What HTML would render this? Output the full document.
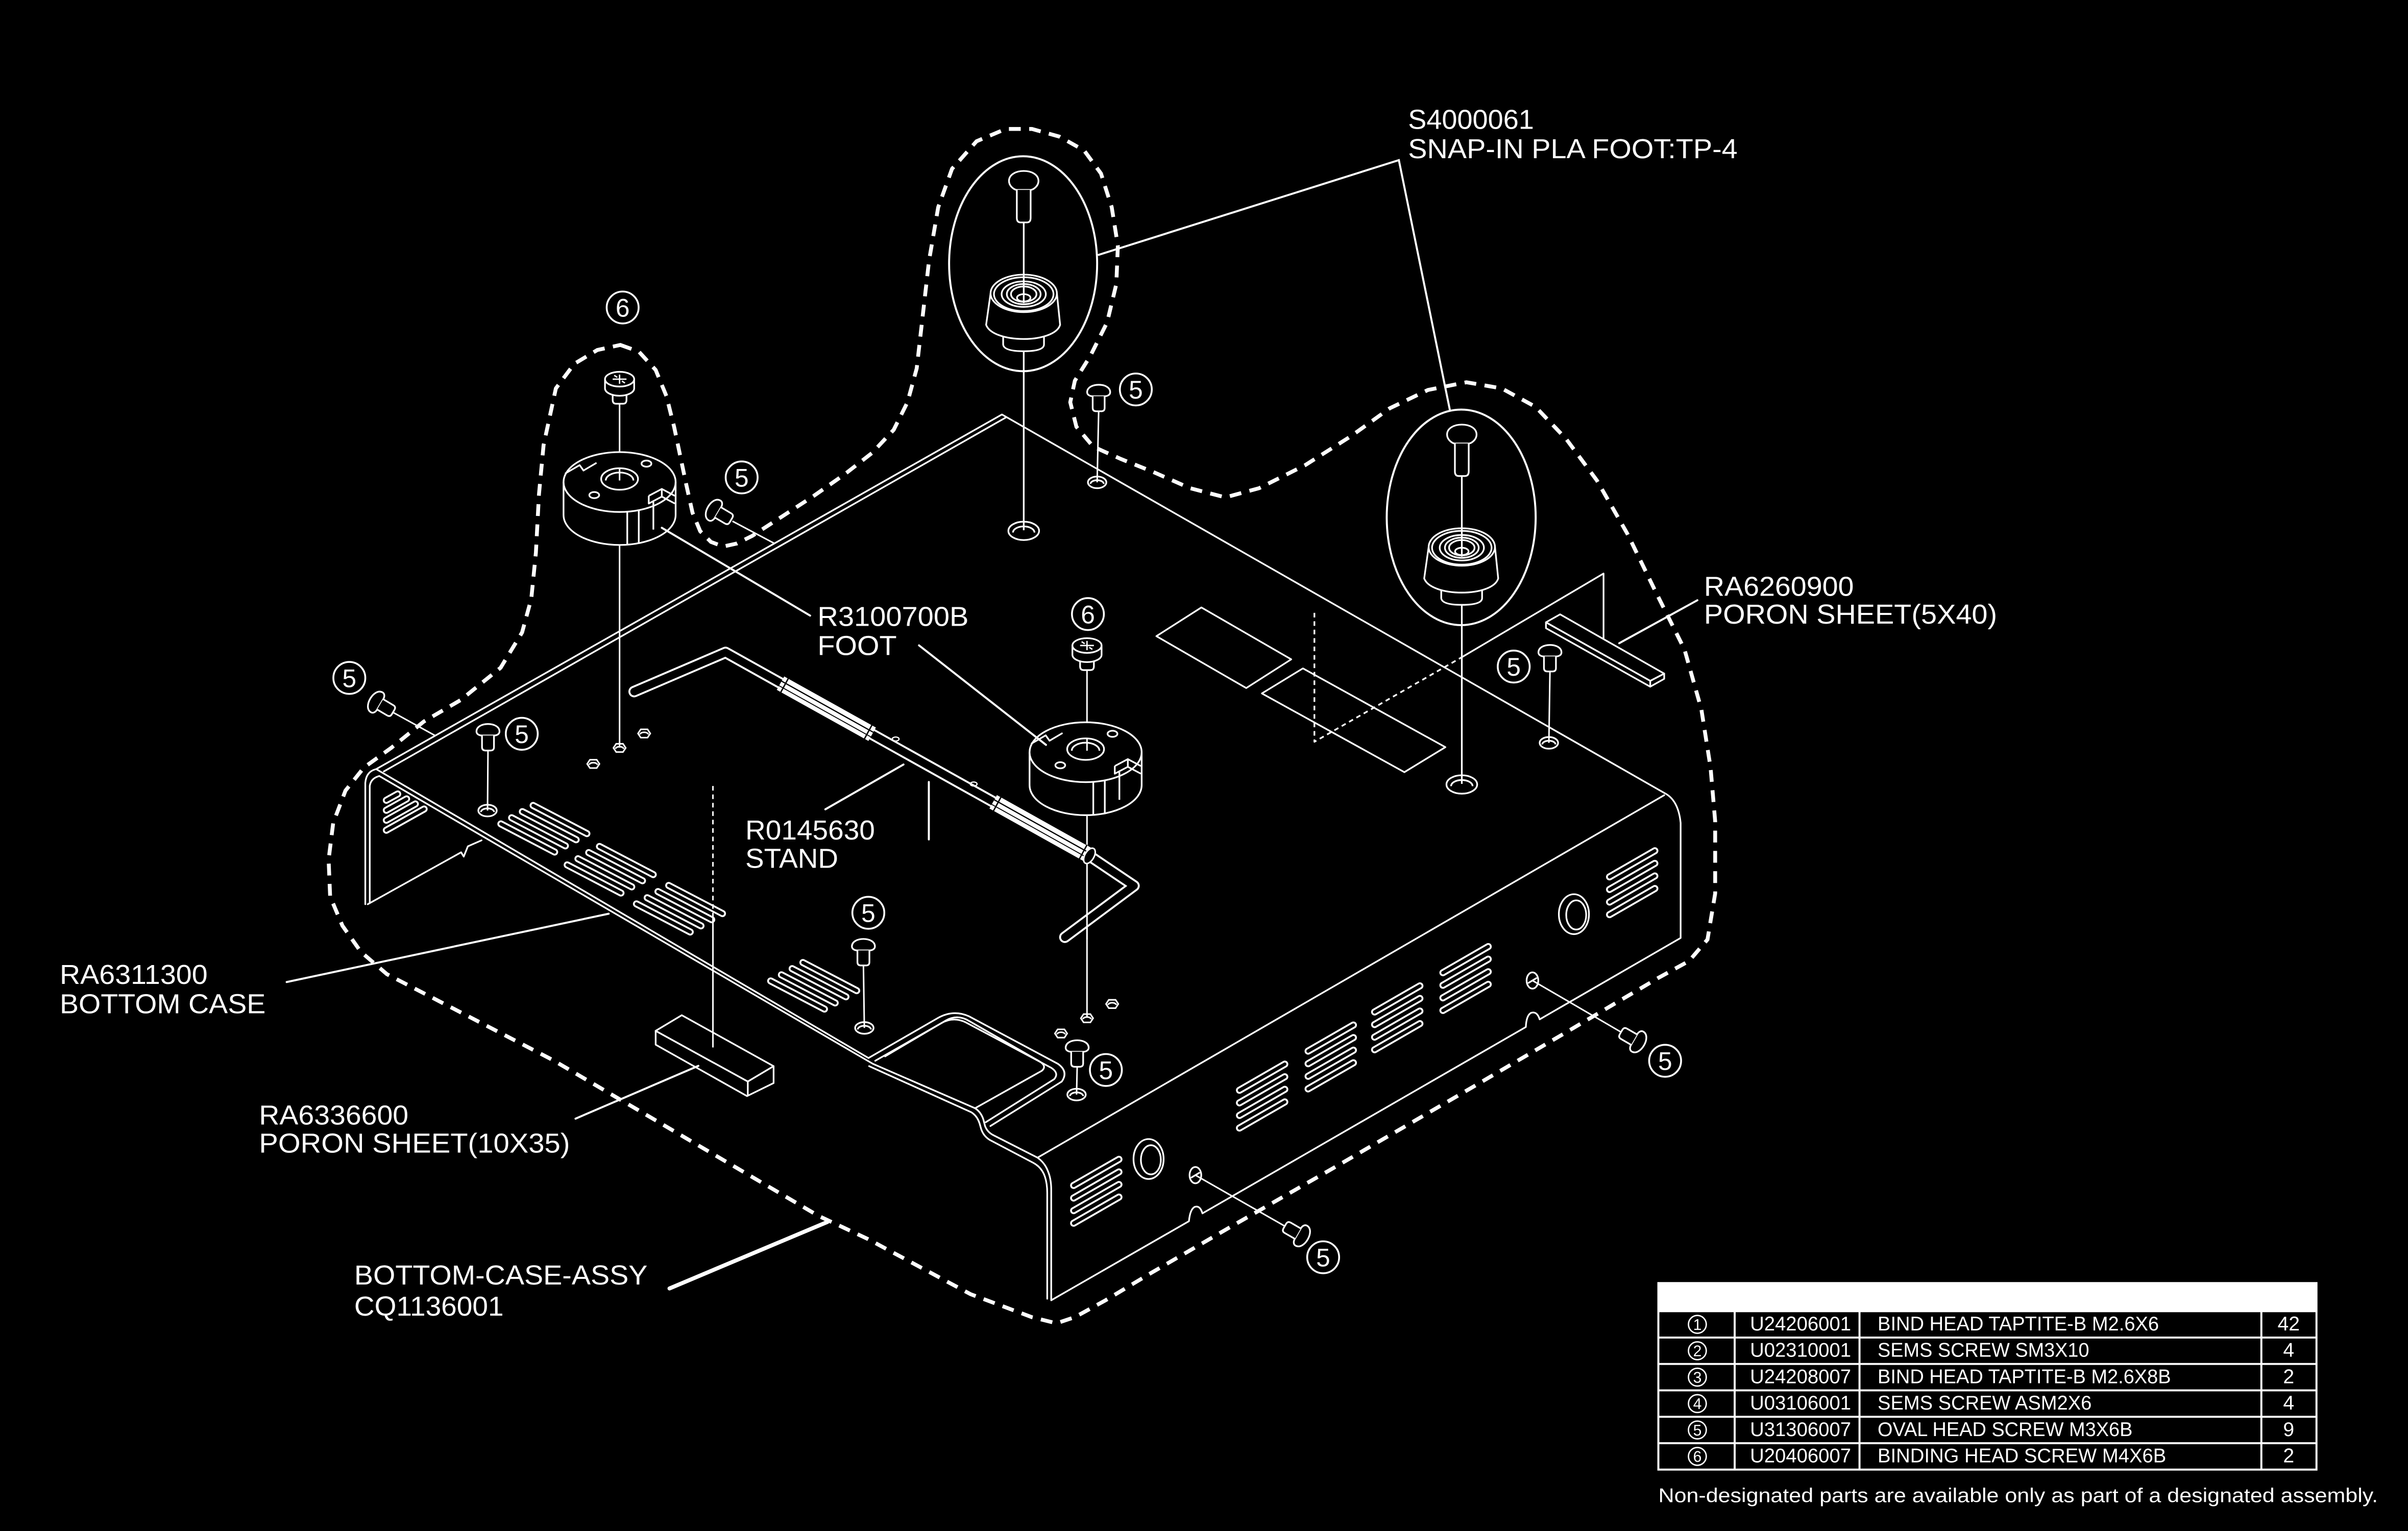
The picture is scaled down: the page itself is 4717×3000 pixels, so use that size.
<!DOCTYPE html>
<html><head><meta charset="utf-8"><style>
html,body{margin:0;padding:0;background:#000;}
svg{display:block}
text{font-family:"Liberation Sans",Arial,sans-serif;fill:#fff;stroke:none}
</style></head><body>
<svg xmlns="http://www.w3.org/2000/svg" width="4717" height="3000" viewBox="0 0 1568.2 997.3" preserveAspectRatio="none">
<rect width="1568.2" height="997.3" fill="#000"/>
<defs>
<g id="sv" fill="#000" stroke="#fff" stroke-width="1.1" stroke-linejoin="round">
<path d="M-7.5 1 C-7.5 -5.5 7.5 -5.5 7.5 1 C7.5 2.8 5.6 3.6 3.9 3.6 L-3.9 3.6 C-5.6 3.6 -7.5 2.8 -7.5 1Z"/>
<path d="M-3.9 3.6 V11.2 Q-3.9 13.4 -1.6 13.4 H1.6 Q3.9 13.4 3.9 11.2 V3.6"/>
</g>
<g id="sb" fill="#000" stroke="#fff" stroke-width="1.1" stroke-linejoin="round">
<path d="M-4.5 6 V10.5 Q-4.5 13 -2.2 13 H2.2 Q4.5 13 4.5 10.5 V6"/>
<path d="M-9.5 -3 V3 A9.5 4.8 0 0 0 9.5 3 V-3 Z"/>
<ellipse cx="0" cy="-3" rx="9.5" ry="4.8"/>
<path d="M-4.5 -3 H4.5 M0 -6 V0 M-3.5 -5.5 L-1.5 -4.2 M3.5 -0.5 L1.5 -1.8" stroke-width="0.9" fill="none"/>
</g>
<g id="ft" stroke="#fff" stroke-width="1.1" stroke-linejoin="round">
<path d="M-36.5 0 A36.5 19.5 0 0 1 36.5 0 V21.5 A36.5 19.5 0 0 1 -36.5 21.5 Z" fill="#000"/>
<path d="M-36.5 0 A36.5 19.5 0 0 0 36.5 0" fill="none"/>
<ellipse cx="0" cy="-2" rx="12" ry="7" fill="#000"/>
<path d="M-9 -1 A9 5.2 0 0 1 9 -1" fill="none"/>
<ellipse cx="-16.5" cy="8.5" rx="3.2" ry="2" fill="none"/>
<ellipse cx="17.5" cy="-12" rx="3.2" ry="2" fill="none"/>
<path d="M-35.5 -5.5 L-26 -11 L-23.5 -7.5 L-15 -12.5" fill="none"/>
<path d="M5 19.5 V41 M12.5 18.5 V40.3" fill="none"/>
<path d="M19 9 L27.5 4.5 L36 9 M19 9 V14 L27.5 9.5 L36 14 M27.5 9.5 V4.5 M22 13 V31" fill="none"/>
</g>
<g id="sf" stroke="#fff" stroke-width="1.1" stroke-linejoin="round">
<path d="M0 27 V62" fill="none"/>
<path d="M0 111 V228" fill="none"/>
<ellipse cx="0" cy="228.4" rx="10" ry="6" fill="none"/>
<path d="M-7 229.5 A7 4 0 0 1 7 229.5" fill="none"/>
<path d="M-9.6 0.5 C-9.6 -8.2 9.6 -8.2 9.6 0.5 C9.6 4 6 6.3 4.5 6.3 H-4.5 C-6 6.3 -9.6 4 -9.6 0.5Z" fill="#000"/>
<path d="M-4.5 6.3 V24.5 Q-4.5 27.5 -2 27.5 H2 Q4.5 27.5 4.5 24.5 V6.3" fill="#000"/>
<path d="M-13.4 100 V107 Q-13 111.4 0 111.4 Q13.2 111.4 13.2 107 V100" fill="#000"/>
<path d="M-21.6 73.7 L-24.5 94.2 C-20 106.5 20 106.5 23.7 94.2 L21.6 73.7 Z" fill="#000"/>
<ellipse cx="0" cy="73.7" rx="21.6" ry="12.2" fill="#000"/>
<ellipse cx="0" cy="74.2" rx="19.4" ry="11" fill="none"/>
<ellipse cx="0" cy="74.2" rx="14.4" ry="8.3" fill="none"/>
<ellipse cx="0" cy="74.2" rx="11" ry="6.6" fill="none"/>
<ellipse cx="0" cy="74.2" rx="8.3" ry="5" fill="none"/>
<ellipse cx="0" cy="76.6" rx="4.4" ry="2.4" fill="none"/>
<path d="M0 62 V80" fill="none"/>
</g>
<g id="sh" fill="none" stroke="#fff" stroke-width="1.1">
<ellipse cx="0" cy="0" rx="6" ry="3.8"/>
<path d="M-4.3 1 A4.3 2.4 0 0 1 4.3 1"/>
</g>
<g id="hx" fill="none" stroke="#fff" stroke-width="1">
<path d="M-4 0 L-2.2 -2.7 H2.2 L4 0 L2.2 2.7 H-2.2 Z"/>
<path d="M-2.6 0.6 A2.6 1.4 0 0 1 2.6 0.6"/>
</g>
<g id="c5"><circle cx="0" cy="0" r="10.4" fill="#000" stroke="#fff" stroke-width="1.2"/><text x="0" y="6" font-size="16.5" text-anchor="middle">5</text></g>
<g id="c6"><circle cx="0" cy="0" r="10.4" fill="#000" stroke="#fff" stroke-width="1.2"/><text x="0" y="6" font-size="16.5" text-anchor="middle">6</text></g>
</defs>

<!-- dashed assembly boundary -->
<path d="M404 224.7 L416 229 L427 241 L434 258 L439 278 L443 297 L447 316 L451 334 L456 346 L463 353 L471 356 L480 354 L490 349 L510 336 L530 323 L550 309 L568 295 L582 280 L591 262 L597 240 L601 205 L605 170 L611 135 L620 110 L636 92 L655 84 L672 84 L690 89 L706 98 L717 113 L724 135 L728 160 L727 185 L721 210 L710 232 L700 248 L697 262 L701 278 L712 291 L730 299 L750 307 L775 318 L798 324 L820 318 L850 303 L880 284 L905 266 L930 254 L955 249 L978 253 L1000 265 L1020 286 L1040 313 L1060 348 L1078 385 L1097 423 L1108 462 L1114 500 L1117 535 L1117 582 L1112 612 L1100 626 L1080 637 L1019 673 L955 710.5 L869 760.5 L800 800 L750 829 L720 847 L700 858 L688 862 L672 858 L632 843 L565 807 L533 792 L360 690.5 L252 634.6 L235 620 L223 603 L215 584 L214 560 L217 536 L225 515 L237 500 L255 487 L276 470 L300 456 L326 435 L340 412 L346 390 L349 360 L351 322 L354 290 L362 253 L374 237 L389 228 Z" fill="none" stroke="#fff" stroke-width="2.5" stroke-dasharray="7.7 5.5"/>

<g fill="none" stroke="#fff" stroke-width="1.1" stroke-linejoin="round" stroke-linecap="round">
<!-- case outline -->
<path d="M237.9 589 V510 Q238.5 502.5 245 501 L652.5 270 L1083.8 516.5 Q1093 521 1094.5 536 V611 L1002.7 664 Q1001 658.5 997 659.8 Q994 661.5 993.7 669 L783.1 790.4 Q781.5 785 778 786.2 Q775 787.8 774.3 795.5 L684.6 847 V775 Q684.6 768 682.5 763 Q680.5 757.5 675.7 754.1"/>
<path d="M240.8 588 V512 Q241.5 507 247 505.5"/>
<path d="M250 502.5 L655 272"/>
<path d="M675.7 754.1 L1083.8 518"/>
<path d="M239.5 589 L300.3 555.2 L302 558 L304.7 551.3 L313.6 547.4"/>
<!-- front-left edge and pocket -->
<path d="M245 501 L565.6 689.2 L611 663 Q621 657.5 631 662 L689 693 Q696 698 691.5 704.5 L645 733.5"/>
<path d="M570 691 L613 666.5 Q621 662 629 666 L684.5 695.5 Q690 699 686.5 703 L642 731"/>
<path d="M576.4 688.1 L615.9 664.8 Q623.5 660.5 631 665 L677 691.4 Q682 694.5 678.5 697.5 L635 721.9"/>
<path d="M247 505.5 L568.5 693 L635 721.9 Q639 724.5 640.5 729.5 L641.5 733.5 Q643 737.5 647 739.5 L675.7 754.1"/>
<path d="M566 694.5 L632.5 724.5 Q636.5 727 638 732 L639 735.5 Q640.5 740 644.5 742.5 L673 757.5 Q678.5 760.5 680.5 766.5 Q682 771 682 777 V846"/>
<!-- recessed rects on top right -->
<path d="M753.1 414.4 L782.4 395.7 L840.9 429.5 L811.6 448.2 Z"/>
<path d="M821.8 451.7 L848.5 435.4 L941.3 486.7 L914.6 503 Z"/>
<path d="M856 399.2 V483.2 L951.5 428.4" stroke-dasharray="3 2.5" stroke-linecap="butt"/>
<path d="M951.5 428.4 L1044.3 373.6 V421.4"/>
<!-- jacks / holes on front face -->
<ellipse cx="748" cy="755" rx="9.8" ry="13"/>
<ellipse cx="749.5" cy="755.5" rx="6.5" ry="9.5"/>
<ellipse cx="1025" cy="595.5" rx="9.8" ry="13"/>
<ellipse cx="1026.5" cy="596" rx="6.5" ry="9.5"/>
<ellipse cx="778.5" cy="765.5" rx="3.8" ry="5.3"/>
<path d="M776 767 L781 764"/>
<ellipse cx="998" cy="638.7" rx="3.8" ry="5.3"/>
<path d="M995.5 640.2 L1000.5 637.2"/>
</g>

<!-- vent slots (double line look) -->
<g fill="none" stroke-linecap="round">
<path d="M326.2 536.7 l35 18.3 M333.2 532.7 l35 18.3 M340.2 528.7 l35 18.3 M347.2 524.7 l35 18.3 M369.4 563.4 l35 18.3 M376.4 559.4 l35 18.3 M383.4 555.4 l35 18.3 M390.4 551.4 l35 18.3 M414.5 588.8 l35 18.3 M421.5 584.8 l35 18.3 M428.5 580.8 l35 18.3 M435.5 576.8 l35 18.3 M501.9 639 l35 18.3 M508.9 635 l35 18.3 M515.9 631 l35 18.3 M522.9 627 l35 18.3 M699.2 772.2 l29.5 -17 M699.2 780.4 l29.5 -17 M699.2 788.6 l29.5 -17 M699.2 796.8 l29.5 -17 M807.2 710.2 l29.5 -17 M807.2 718.4 l29.5 -17 M807.2 726.6 l29.5 -17 M807.2 734.8 l29.5 -17 M851.9 684.7 l29.5 -17 M851.9 692.9 l29.5 -17 M851.9 701.1 l29.5 -17 M851.9 709.3 l29.5 -17 M895.2 659.2 l29.5 -17 M895.2 667.4 l29.5 -17 M895.2 675.6 l29.5 -17 M895.2 683.8 l29.5 -17 M939.7 633.6 l29.5 -17 M939.7 641.8 l29.5 -17 M939.7 650 l29.5 -17 M939.7 658.2 l29.5 -17 M1048.2 571.2 l29.5 -17 M1048.2 579.4 l29.5 -17 M1048.2 587.6 l29.5 -17 M1048.2 595.8 l29.5 -17 M251.6 540.8 L276.2 527 M251.6 534.3 L270.5 523.7 M251.6 527.8 L264.8 520.4 M251.6 521.3 L259 517.2" stroke="#fff" stroke-width="4.6"/>
<path d="M326.2 536.7 l35 18.3 M333.2 532.7 l35 18.3 M340.2 528.7 l35 18.3 M347.2 524.7 l35 18.3 M369.4 563.4 l35 18.3 M376.4 559.4 l35 18.3 M383.4 555.4 l35 18.3 M390.4 551.4 l35 18.3 M414.5 588.8 l35 18.3 M421.5 584.8 l35 18.3 M428.5 580.8 l35 18.3 M435.5 576.8 l35 18.3 M501.9 639 l35 18.3 M508.9 635 l35 18.3 M515.9 631 l35 18.3 M522.9 627 l35 18.3 M699.2 772.2 l29.5 -17 M699.2 780.4 l29.5 -17 M699.2 788.6 l29.5 -17 M699.2 796.8 l29.5 -17 M807.2 710.2 l29.5 -17 M807.2 718.4 l29.5 -17 M807.2 726.6 l29.5 -17 M807.2 734.8 l29.5 -17 M851.9 684.7 l29.5 -17 M851.9 692.9 l29.5 -17 M851.9 701.1 l29.5 -17 M851.9 709.3 l29.5 -17 M895.2 659.2 l29.5 -17 M895.2 667.4 l29.5 -17 M895.2 675.6 l29.5 -17 M895.2 683.8 l29.5 -17 M939.7 633.6 l29.5 -17 M939.7 641.8 l29.5 -17 M939.7 650 l29.5 -17 M939.7 658.2 l29.5 -17 M1048.2 571.2 l29.5 -17 M1048.2 579.4 l29.5 -17 M1048.2 587.6 l29.5 -17 M1048.2 595.8 l29.5 -17 M251.6 540.8 L276.2 527 M251.6 534.3 L270.5 523.7 M251.6 527.8 L264.8 520.4 M251.6 521.3 L259 517.2" stroke="#000" stroke-width="2.2"/>
</g>

<!-- poron sheets -->
<g fill="#000" stroke="#fff" stroke-width="1.1" stroke-linejoin="round">
<path d="M427 671.5 V680.5 L486.5 714 L503.8 705.5 V694.5 L487 704.5 Z"/>
<path d="M487 704.5 V714"/>
<path d="M444 661.3 L503.8 694.5 L487 704.5 L427 671.5 Z"/>
<path d="M1006.8 405.4 V409.2 L1074.7 447.3 L1083.8 442.2 V438.8 L1074.7 443.5 Z"/>
<path d="M1074.7 443.5 V447.3"/>
<path d="M1006.8 405.4 L1016 400.2 L1083.8 438.8 L1074.7 443.5 Z"/>
</g>
<g fill="none" stroke="#fff" stroke-width="1">
<path d="M464.3 512 V594.6" stroke-dasharray="3 2.5"/>
<path d="M464.3 594.6 V682.3"/>
</g>

<!-- screw holes and lines -->
<g fill="none" stroke="#fff" stroke-width="1">
<path d="M715.5 268 L714.5 314.2 M317.8 489 L317.5 528 M562.3 629 L562.9 669.6 M701.5 695 L701.1 713 M1009.4 437.5 L1008.7 483.9"/>
<path d="M403.5 262 V487 M707.9 436 V663"/>
<path d="M477 339.5 L504.7 354.2 M255.5 463.8 L283.4 479.2 M778.5 765.5 L836.7 798.7 M998 638.7 L1055.7 672.3"/>
</g>
<use href="#sh" x="714.5" y="314.2"/>
<use href="#sh" x="317.5" y="528"/>
<use href="#sh" x="562.9" y="669.6"/>
<use href="#sh" x="701.1" y="713"/>
<use href="#sh" x="1008.7" y="483.9"/>
<use href="#hx" x="403.5" y="487.2"/>
<use href="#hx" x="419.5" y="477.8"/>
<use href="#hx" x="386.4" y="497.6"/>
<use href="#hx" x="707.9" y="663.3"/>
<use href="#hx" x="724.3" y="654"/>
<use href="#hx" x="691" y="673.2"/>

<!-- feet R3100700B -->
<use href="#ft" x="403.5" y="314"/>
<use href="#ft" x="707" y="490"/>
<path d="M403.5 305 V313 M707.9 481 V489" stroke="#fff" stroke-width="1"/>

<!-- stand -->
<g fill="none" stroke-linecap="round" stroke-linejoin="round">
<path d="M413 450.5 L472.5 425 L708 556.5 L738.5 577 L693.5 610.5" stroke="#fff" stroke-width="7.5"/>
<path d="M413 450.5 L472.5 425 L708 556.5 L738.5 577 L693.5 610.5" stroke="#000" stroke-width="5"/>
<path d="M508.3 445 L568 478.3 M646.8 522.3 L708 556.5" stroke="#fff" stroke-width="10" stroke-linecap="butt"/>
<path d="M509 443.7 L568.7 477 M647.5 521 L708.7 555.2" stroke="#000" stroke-width="0.8"/>
<path d="M507.6 446.8 L567.3 480.1 M646.1 524.1 L707.3 558.3" stroke="#000" stroke-width="0.6"/>
<path d="M513.3 442.1 L508.5 450.9 M567.8 472.4 L563 481.2 M651.8 519.4 L647 528.2 M707.8 550.6 L703 559.4" stroke="#000" stroke-width="0.9"/>
<ellipse cx="709.5" cy="557.5" rx="3" ry="5.5" transform="rotate(30 709.5 557.5)" stroke="#fff" stroke-width="1" fill="#000"/>
<ellipse cx="583.3" cy="481.4" rx="2.2" ry="1.3" stroke="#fff" stroke-width="0.8"/>
<ellipse cx="634.1" cy="510.7" rx="2.2" ry="1.3" stroke="#fff" stroke-width="0.8"/>
</g>
<path d="M707.9 595 V612" stroke="#fff" stroke-width="1"/>

<!-- screws -->
<use href="#sv" transform="translate(715.5 254.5)"/>
<use href="#sv" transform="translate(317.8 475.5)"/>
<use href="#sv" transform="translate(562.3 615.5)"/>
<use href="#sv" transform="translate(701.5 681.5)"/>
<use href="#sv" transform="translate(1009.4 424)"/>
<use href="#sv" transform="translate(464.5 332) rotate(-59.4)"/>
<use href="#sv" transform="translate(244.5 457) rotate(-59.4)"/>
<use href="#sv" transform="translate(848.3 805.4) rotate(120)"/>
<use href="#sv" transform="translate(1067.3 679) rotate(120)"/>
<use href="#sb" transform="translate(403.5 250)"/>
<use href="#sb" transform="translate(707.9 423.5)"/>

<!-- snap-in feet in ellipses -->
<use href="#sf" transform="translate(952 282.6)"/>
<use href="#sf" transform="translate(666.7 117.4)"/>
<g fill="none" stroke="#fff" stroke-width="1.3">
<ellipse cx="666.3" cy="171.8" rx="48.2" ry="70"/>
<ellipse cx="951.6" cy="337" rx="48.5" ry="70.2"/>
</g>

<!-- circled numbers -->
<use href="#c6" x="405.5" y="200.3"/>
<use href="#c6" x="708.5" y="400"/>
<use href="#c5" x="483" y="311"/>
<use href="#c5" x="227.5" y="441.6"/>
<use href="#c5" x="339.8" y="478"/>
<use href="#c5" x="565.5" y="594.6"/>
<use href="#c5" x="720.2" y="697"/>
<use href="#c5" x="985.8" y="434.2"/>
<use href="#c5" x="739.7" y="253.7"/>
<use href="#c5" x="861.7" y="819"/>
<use href="#c5" x="1084.4" y="691"/>

<!-- leaders -->
<g fill="none" stroke="#fff" stroke-width="1.3" stroke-linecap="round">
<path d="M715.5 166 L911 104.3 L944.2 267"/>
<path d="M527.6 401 L431 343.8"/>
<path d="M598.5 420.4 L681.2 485.2"/>
<path d="M537.5 527.2 L588.4 498"/>
<path d="M604.9 509.4 V546.8"/>
<path d="M1054.5 419 L1105.4 391"/>
<path d="M186.7 639.7 L396.4 595.2"/>
<path d="M374.8 728.7 L454.8 694.3"/>
<path d="M436 839.3 L538.8 796" stroke-width="2.6"/>
</g>

<!-- labels -->
<g font-size="18">
<text x="917" y="84" textLength="82" lengthAdjust="spacingAndGlyphs">S4000061</text>
<text x="917" y="103" textLength="214.6" lengthAdjust="spacingAndGlyphs">SNAP-IN PLA FOOT:TP-4</text>
<text x="532.4" y="407.7" textLength="98.4" lengthAdjust="spacingAndGlyphs">R3100700B</text>
<text x="532.4" y="426.7" textLength="51.6" lengthAdjust="spacingAndGlyphs">FOOT</text>
<text x="485.4" y="546.8" textLength="84.4" lengthAdjust="spacingAndGlyphs">R0145630</text>
<text x="485.4" y="565.3" textLength="60.5" lengthAdjust="spacingAndGlyphs">STAND</text>
<text x="1109.7" y="388.2" textLength="97.6" lengthAdjust="spacingAndGlyphs">RA6260900</text>
<text x="1109.7" y="406.3" textLength="190.9" lengthAdjust="spacingAndGlyphs">PORON SHEET(5X40)</text>
<text x="38.9" y="641" textLength="96.3" lengthAdjust="spacingAndGlyphs">RA6311300</text>
<text x="38.9" y="660" textLength="134.1" lengthAdjust="spacingAndGlyphs">BOTTOM CASE</text>
<text x="168.7" y="732.5" textLength="97.3" lengthAdjust="spacingAndGlyphs">RA6336600</text>
<text x="168.7" y="750.8" textLength="202.5" lengthAdjust="spacingAndGlyphs">PORON SHEET(10X35)</text>
<text x="230.7" y="836.7" textLength="191" lengthAdjust="spacingAndGlyphs">BOTTOM-CASE-ASSY</text>
<text x="230.7" y="857" textLength="97.3" lengthAdjust="spacingAndGlyphs">CQ1136001</text>
</g>

<!-- parts table -->
<rect x="1080" y="835.8" width="428.6" height="18.3" fill="#fff"/>
<g fill="none" stroke="#fff" stroke-width="1.3">
<rect x="1080" y="835.8" width="428.6" height="121.5"/>
<path d="M1080 854.1 H1508.6 M1080 871.3 H1508.6 M1080 888.5 H1508.6 M1080 905.7 H1508.6 M1080 922.9 H1508.6 M1080 940.1 H1508.6"/>
<path d="M1129.7 854.1 V957.3 M1211 854.1 V957.3 M1472.7 854.1 V957.3"/>
<circle cx="1105.4" cy="862.7" r="5.8" stroke-width="0.9"/>
<circle cx="1105.4" cy="879.9" r="5.8" stroke-width="0.9"/>
<circle cx="1105.4" cy="897.1" r="5.8" stroke-width="0.9"/>
<circle cx="1105.4" cy="914.3" r="5.8" stroke-width="0.9"/>
<circle cx="1105.4" cy="931.5" r="5.8" stroke-width="0.9"/>
<circle cx="1105.4" cy="948.7" r="5.8" stroke-width="0.9"/>
</g>
<g font-size="10" text-anchor="middle">
<text x="1105.4" y="866.3">1</text>
<text x="1105.4" y="883.5">2</text>
<text x="1105.4" y="900.7">3</text>
<text x="1105.4" y="917.9">4</text>
<text x="1105.4" y="935.1">5</text>
<text x="1105.4" y="952.3">6</text>
</g>
<g font-size="13">
<text x="1139.7" y="866.6" textLength="65.8" lengthAdjust="spacingAndGlyphs">U24206001</text>
<text x="1139.7" y="883.8" textLength="65.8" lengthAdjust="spacingAndGlyphs">U02310001</text>
<text x="1139.7" y="901" textLength="65.8" lengthAdjust="spacingAndGlyphs">U24208007</text>
<text x="1139.7" y="918.2" textLength="65.8" lengthAdjust="spacingAndGlyphs">U03106001</text>
<text x="1139.7" y="935.4" textLength="65.8" lengthAdjust="spacingAndGlyphs">U31306007</text>
<text x="1139.7" y="952.6" textLength="65.8" lengthAdjust="spacingAndGlyphs">U20406007</text>
<text x="1222.8" y="866.6" textLength="183.2" lengthAdjust="spacingAndGlyphs">BIND HEAD TAPTITE-B M2.6X6</text>
<text x="1222.8" y="883.8" textLength="137.8" lengthAdjust="spacingAndGlyphs">SEMS SCREW SM3X10</text>
<text x="1222.8" y="901" textLength="191" lengthAdjust="spacingAndGlyphs">BIND HEAD TAPTITE-B M2.6X8B</text>
<text x="1222.8" y="918.2" textLength="139.4" lengthAdjust="spacingAndGlyphs">SEMS SCREW ASM2X6</text>
<text x="1222.8" y="935.4" textLength="166" lengthAdjust="spacingAndGlyphs">OVAL HEAD SCREW M3X6B</text>
<text x="1222.8" y="952.6" textLength="187.9" lengthAdjust="spacingAndGlyphs">BINDING HEAD SCREW M4X6B</text>
</g>
<g font-size="13" text-anchor="middle">
<text x="1490.5" y="866.6">42</text>
<text x="1490.5" y="883.8">4</text>
<text x="1490.5" y="901">2</text>
<text x="1490.5" y="918.2">4</text>
<text x="1490.5" y="935.4">9</text>
<text x="1490.5" y="952.6">2</text>
</g>
<text x="1080" y="978.5" font-size="13" textLength="468.6" lengthAdjust="spacingAndGlyphs">Non-designated parts are available only as part of a designated assembly.</text>
</svg>
</body></html>
